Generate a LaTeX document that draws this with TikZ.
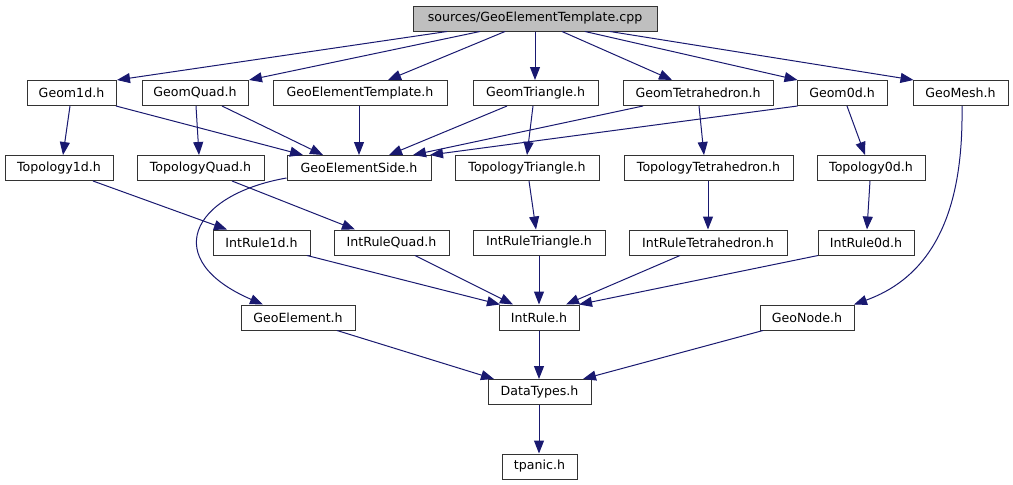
\documentclass[tikz,border=0pt]{standalone}
\usepackage{fontspec}
\setmainfont{DejaVu Sans}
\usetikzlibrary{arrows.meta,calc}
\definecolor{edgeblue}{HTML}{191970}
\definecolor{rootgray}{HTML}{BFBFBF}
\begin{document}
\begin{tikzpicture}[x=1pt,y=-1pt,
  file/.style={draw=black!80, line width=1pt, fill=white, inner sep=0pt,
    minimum height=25pt, font=\fontsize{12.6}{15}\selectfont},
  root/.style={file, fill=rootgray},
  dep/.style={draw=edgeblue, line width=1pt,
    -{Triangle[length=13pt,width=10pt,fill=edgeblue]}}]
\useasboundingbox (0,0) rectangle (1013,485);

% include graph nodes
\node[root, minimum width=244pt] (cpp) at (535,18.5) {sources/GeoElementTemplate.cpp};

\node[file, minimum width=89pt]  (g1d)   at (71.5,93)  {Geom1d.h};
\node[file, minimum width=106pt] (gquad) at (195,93)   {GeomQuad.h};
\node[file, minimum width=174pt] (gtmpl) at (360,93)   {GeoElementTemplate.h};
\node[file, minimum width=125pt] (gtri)  at (535.5,93) {GeomTriangle.h};
\node[file, minimum width=150pt] (gtet)  at (698,93)   {GeomTetrahedron.h};
\node[file, minimum width=90pt]  (g0d)   at (842,93)   {Geom0d.h};
\node[file, minimum width=95pt]  (gmesh) at (960.5,93) {GeoMesh.h};

\node[file, minimum width=108pt] (t1d)   at (59,168)    {Topology1d.h};
\node[file, minimum width=127pt] (tquad) at (200.5,168) {TopologyQuad.h};
\node[file, minimum width=144pt] (gside) at (359,168)   {GeoElementSide.h};
\node[file, minimum width=144pt] (ttri)  at (527,168)   {TopologyTriangle.h};
\node[file, minimum width=169pt] (ttet)  at (708.5,168) {TopologyTetrahedron.h};
\node[file, minimum width=108pt] (t0d)   at (871,168)   {Topology0d.h};

\node[file, minimum width=97pt]  (i1d)   at (261.5,242.5) {IntRule1d.h};
\node[file, minimum width=115pt] (iquad) at (391.5,242.5) {IntRuleQuad.h};
\node[file, minimum width=132pt] (itri)  at (539,242.5)   {IntRuleTriangle.h};
\node[file, minimum width=158pt] (itet)  at (708,242.5)   {IntRuleTetrahedron.h};
\node[file, minimum width=96pt]  (i0d)   at (866,242.5)   {IntRule0d.h};

\node[file, minimum width=114pt] (gelem) at (298,317.5) {GeoElement.h};
\node[file, minimum width=80pt]  (irule) at (539,317.5) {IntRule.h};
\node[file, minimum width=94pt]  (gnode) at (807,317.5) {GeoNode.h};

\node[file, minimum width=103pt] (dtypes) at (539.5,392)   {DataTypes.h};
\node[file, minimum width=75pt]  (tpanic) at (539.5,466.5) {tpanic.h};

% dependencies of the source file
\draw[dep] (447,0 |- cpp.south) -- (117,0 |- g1d.north);
\draw[dep] (480,0 |- cpp.south) -- (249,0 |- gquad.north);
\draw[dep] (505,0 |- cpp.south) -- (388,0 |- gtmpl.north);
\draw[dep] (535,0 |- cpp.south) -- (535,0 |- gtri.north);
\draw[dep] (562,0 |- cpp.south) -- (672,0 |- gtet.north);
\draw[dep] (585,0 |- cpp.south) -- (797.5,0 |- g0d.north);
\draw[dep] (610,0 |- cpp.south) -- (913.5,0 |- gmesh.north);

% geometry headers
\draw[dep] (70,0 |- g1d.south)   -- (63,0 |- t1d.north);
\draw[dep] (116,0 |- g1d.south)  -- (303,0 |- gside.north);
\draw[dep] (196,0 |- gquad.south) -- (199,0 |- tquad.north);
\draw[dep] (222,0 |- gquad.south) -- (323,0 |- gside.north);
\draw[dep] (359,0 |- gtmpl.south) -- (359,0 |- gside.north);
\draw[dep] (507,0 |- gtri.south) -- (389,0 |- gside.north);
\draw[dep] (533,0 |- gtri.south) -- (527,0 |- ttri.north);
\draw[dep] (643,0 |- gtet.south) -- (413,0 |- gside.north);
\draw[dep] (699,0 |- gtet.south) -- (704,0 |- ttet.north);
\draw[dep] (797.5,0 |- g0d.south) -- (430,0 |- gside.north);
\draw[dep] (847,0 |- g0d.south) -- (865,0 |- t0d.north);
\draw[dep] (962,0 |- gmesh.south) .. controls (963,180) and (950,270) .. (854,0 |- gnode.north);

% topology headers
\draw[dep] (93,0 |- t1d.south)   -- (227,0 |- i1d.north);
\draw[dep] (232,0 |- tquad.south) -- (355,0 |- iquad.north);
\draw[dep] (gside.west |- 0,178) .. controls (190,195) and (160,260) .. (263,0 |- gelem.north);
\draw[dep] (529,0 |- ttri.south) -- (536,0 |- itri.north);
\draw[dep] (708,0 |- ttet.south) -- (708,0 |- itet.north);
\draw[dep] (870,0 |- t0d.south)  -- (867,0 |- i0d.north);

% integration rules
\draw[dep] (307,0 |- i1d.south)   -- (500,0 |- irule.north);
\draw[dep] (415,0 |- iquad.south) -- (513,0 |- irule.north);
\draw[dep] (539,0 |- itri.south)  -- (539,0 |- irule.north);
\draw[dep] (680,0 |- itet.south)  -- (566,0 |- irule.north);
\draw[dep] (818,0 |- i0d.south)   -- (579,0 |- irule.north);

% base headers
\draw[dep] (337,0 |- gelem.south) -- (494,0 |- dtypes.north);
\draw[dep] (539,0 |- irule.south) -- (539,0 |- dtypes.north);
\draw[dep] (763,0 |- gnode.south) -- (583,0 |- dtypes.north);
\draw[dep] (539,0 |- dtypes.south) -- (539,0 |- tpanic.north);
\end{tikzpicture}
\end{document}
